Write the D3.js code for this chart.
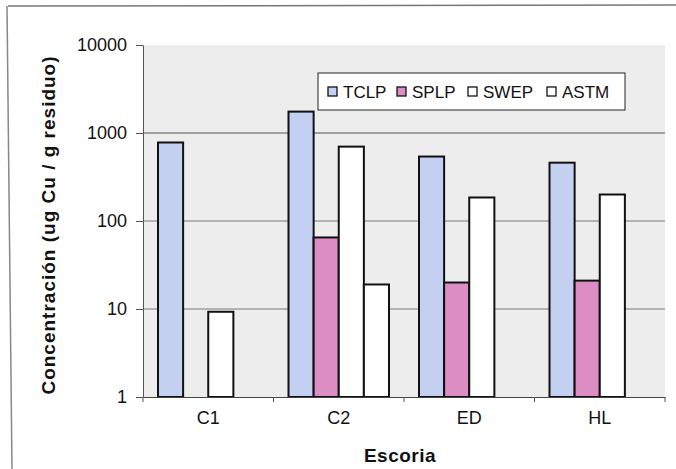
<!DOCTYPE html>
<html>
<head>
<meta charset="utf-8">
<script src="https://d3js.org/d3.v7.min.js"></script>
<style>
  body { margin: 0; background: #fff; }
  text { font-family: "Liberation Sans", Arial, sans-serif; fill: #111; }
</style>
</head>
<body>
<script>
var W = 676, H = 469;

// data
var categories = ["C1", "C2", "ED", "HL"];
var seriesNames = ["TCLP", "SPLP", "SWEP", "ASTM"];
var TCLP = [780, 1750, 540, 460];
var SPLP = [null, 65, 20, 21];
var SWEP = [9.3, 700, 185, 200];
var ASTM = [null, 19, null, null];
var yTicks = [1, 10, 100, 1000, 10000];
var colors = ["#c3d0f2", "#dc8ec4", "#ffffff", "#ffffff"];

var values = [TCLP, SPLP, SWEP, ASTM];

var pL = 143, pR = 665, pT = 45, pB = 397;

var svg = d3.select("body").append("svg")
    .attr("width", W)
    .attr("height", H);

// scanned frame (only top and left survive)
svg.append("line").attr("x1", 8).attr("y1", 6).attr("x2", 676).attr("y2", 5)
  .attr("stroke", "#777").attr("stroke-width", 1.5);
svg.append("line").attr("x1", 7).attr("y1", 6).attr("x2", 12).attr("y2", 469)
  .attr("stroke", "#888").attr("stroke-width", 1.5);

var x = d3.scaleBand().domain(categories).range([pL, pR]);
var xs = d3.scaleBand().domain(seriesNames)
    .range([x.bandwidth() * 0.115, x.bandwidth() * 0.885]);
var y = d3.scaleLog().domain([1, 10000]).range([pB, pT]);

// plot area
svg.append("rect")
  .attr("x", pL).attr("y", pT)
  .attr("width", pR - pL).attr("height", pB - pT)
  .attr("fill", "#ededed");

// gridlines
svg.append("g").selectAll("line")
  .data(yTicks.filter(function(d) { return d > 1 && d < 10000; }))
  .enter().append("line")
    .attr("x1", pL).attr("x2", pR)
    .attr("y1", function(d) { return y(d); })
    .attr("y2", function(d) { return y(d); })
    .attr("stroke", function(d) { return d === 1000 ? "#555" : "#7a7a7a"; })
    .attr("stroke-width", 1.2);

// bars
var rows = [];
categories.forEach(function(c, i) {
  seriesNames.forEach(function(s, j) {
    if (values[j][i] != null) rows.push({ cat: c, s: s, v: values[j][i], j: j });
  });
});

svg.append("g").selectAll("rect")
  .data(rows)
  .enter().append("rect")
    .attr("x", function(d) { return x(d.cat) + xs(d.s); })
    .attr("width", xs.bandwidth())
    .attr("y", function(d) { return y(d.v); })
    .attr("height", function(d) { return pB - y(d.v); })
    .attr("fill", function(d) { return colors[d.j]; })
    .attr("stroke", "#111").attr("stroke-width", 2);

// y axis
var yAxis = d3.axisLeft(y)
    .tickValues(yTicks)
    .tickFormat(d3.format("d"))
    .tickSizeInner(7).tickSizeOuter(0).tickPadding(9);
var gy = svg.append("g").attr("transform", "translate(" + pL + ",0)").call(yAxis);
gy.select(".domain").attr("stroke", "#555");
gy.selectAll(".tick line").attr("stroke", "#555");
gy.selectAll("text").style("font-size", "18px").style("font-family", "Liberation Sans, Arial, sans-serif").attr("fill", "#111");

// x axis
var xAxis = d3.axisBottom(x).tickSize(0).tickPadding(14);
var gx = svg.append("g").attr("transform", "translate(0," + pB + ")").call(xAxis);
gx.select(".domain").attr("stroke", "#444");
gx.selectAll("text").style("font-size", "18px").style("font-family", "Liberation Sans, Arial, sans-serif").attr("fill", "#111");
svg.append("g").selectAll("line")
  .data(categories.concat(["end"]))
  .enter().append("line")
    .attr("x1", function(d) { return d === "end" ? pR : x(d); })
    .attr("x2", function(d) { return d === "end" ? pR : x(d); })
    .attr("y1", pB).attr("y2", pB + 5)
    .attr("stroke", "#555");

// axis titles
svg.append("text")
  .attr("x", 400).attr("y", 462)
  .attr("text-anchor", "middle")
  .style("font-size", "19px").style("font-weight", "bold")
  .style("letter-spacing", "0.5px")
  .text("Escoria");

svg.append("text")
  .attr("transform", "translate(55,225) rotate(-90)")
  .attr("text-anchor", "middle")
  .style("font-size", "19px").style("font-weight", "bold")
  .style("letter-spacing", "1px")
  .text("Concentración (ug Cu / g residuo)");

// legend
var lg = svg.append("g").attr("transform", "translate(318,73)");
lg.append("rect").attr("width", 307).attr("height", 37)
  .attr("fill", "#fff").attr("stroke", "#222").attr("stroke-width", 1);
var lx = [10, 79, 150, 229];
var item = lg.selectAll("g.item").data(seriesNames)
  .enter().append("g").attr("class", "item")
    .attr("transform", function(d, i) { return "translate(" + lx[i] + ",0)"; });
item.append("rect").attr("y", 14).attr("width", 9).attr("height", 9)
  .attr("fill", function(d, i) { return colors[i]; })
  .attr("stroke", "#111").attr("stroke-width", 1.3);
item.append("text").attr("x", 15).attr("y", 25)
  .style("font-size", "17px")
  .text(function(d) { return d; });
</script>
</body>
</html>
